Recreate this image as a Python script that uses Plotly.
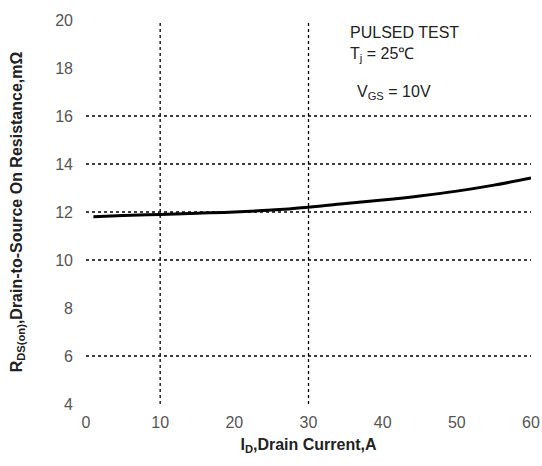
import plotly.graph_objects as go

# Data
drain_current = [1, 5, 10, 15, 20, 25, 30, 35, 40, 45, 50, 55, 60]
rds_on = [11.8, 11.85, 11.9, 11.95, 12.0, 12.08, 12.2, 12.35, 12.5, 12.67, 12.87, 13.12, 13.42]

x_ticks = [0, 10, 20, 30, 40, 50, 60]
y_ticks = [4, 6, 8, 10, 12, 14, 16, 18, 20]
h_grid = [6, 10, 12, 14, 16]
v_grid = [10, 30]

FONT = "Liberation Sans, Arial, sans-serif"

fig = go.Figure()
fig.add_trace(go.Scatter(x=drain_current, y=rds_on, mode="lines",
                         line=dict(color="black", width=3, shape="spline"),
                         showlegend=False))

shapes = []
for yv in h_grid:
    shapes.append(dict(type="line", xref="x", yref="y", x0=0, x1=60, y0=yv, y1=yv,
                       line=dict(color="black", width=1.3, dash="dot"), layer="below"))
for xv in v_grid:
    shapes.append(dict(type="line", xref="x", yref="y", x0=xv, x1=xv, y0=4, y1=20,
                       line=dict(color="black", width=1.3, dash="dot"), layer="below"))

fig.update_layout(
    width=542, height=466,
    margin=dict(l=86, r=11, t=20, b=62),
    paper_bgcolor="white", plot_bgcolor="white",
    font=dict(family=FONT, size=16, color="#444"),
    shapes=shapes,
    xaxis=dict(range=[0, 60], tickvals=x_ticks, showgrid=False, zeroline=False,
               showline=False, ticks="", ticklabelstandoff=7, automargin=False,
               ticklabeloverflow="allow",
               tickfont=dict(size=16, color="#555"),
               title=dict(text="<b>I<sub>D</sub>,Drain Current,A</b>",
                          font=dict(size=16, color="#222"), standoff=8)),
    yaxis=dict(range=[4, 20], tickvals=y_ticks, showgrid=False, zeroline=False,
               showline=False, ticks="", ticklabelstandoff=12, automargin=False,
               ticklabeloverflow="allow",
               tickfont=dict(size=16, color="#555"),
               title=dict(text="<b>R<sub>DS(on)</sub>,Drain-to-Source On Resistance,mΩ</b>",
                          font=dict(size=16, color="#222"), standoff=28)),
    annotations=[
        dict(x=0.589, y=0.995, xref="paper", yref="paper", xanchor="left", yanchor="top",
             showarrow=False, align="left",
             text="PULSED TEST<br>T<sub>j</sub> = 25℃",
             font=dict(size=16, color="#222")),
        dict(x=0.604, y=0.81, xref="paper", yref="paper", xanchor="left", yanchor="middle",
             showarrow=False, text="V<sub>GS</sub> = 10V",
             font=dict(size=16, color="#222")),
    ],
)

fig.write_html(
    "out.html",
    config={"displayModeBar": False},
    post_script="document.body.style.margin='0';document.documentElement.style.overflow='hidden';",
)
